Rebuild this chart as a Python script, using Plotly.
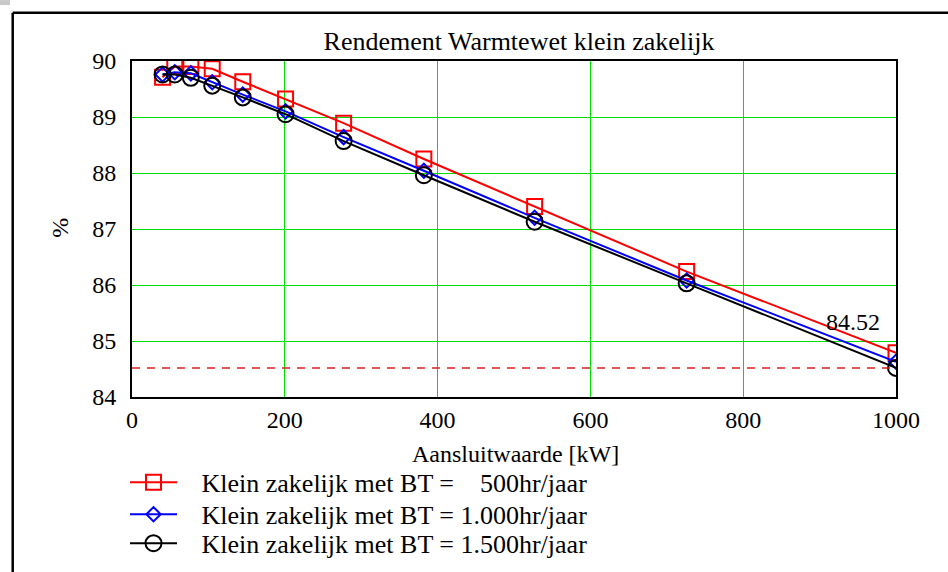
import plotly.graph_objects as go

# Data
aansluitwaarde = [40, 56, 77, 105, 145, 201, 277, 382, 527, 726, 1000]
bt_500 = [89.71, 89.90, 89.90, 89.86, 89.63, 89.32, 88.89, 88.25, 87.40, 86.24, 84.79]
bt_1000 = [89.76, 89.80, 89.78, 89.62, 89.40, 89.10, 88.64, 88.04, 87.20, 86.08, 84.63]
bt_1500 = [89.76, 89.76, 89.70, 89.56, 89.35, 89.05, 88.57, 87.96, 87.13, 86.03, 84.52]
ref_value = 84.52
names = [
    "\u00a0\u00a0\u00a0Klein zakelijk met BT =\u00a0\u00a0\u00a0\u00a0500hr/jaar",
    "\u00a0\u00a0\u00a0Klein zakelijk met BT = 1.000hr/jaar",
    "\u00a0\u00a0\u00a0Klein zakelijk met BT = 1.500hr/jaar",
]
x_ticks = [0, 200, 400, 600, 800, 1000]
y_ticks = [84, 85, 86, 87, 88, 89, 90]

FONT = "Liberation Serif"
W, H = 948, 572
L, R, T, B = 132, 896, 61, 397.5
PW, PH = R - L, B - T


def px(x):
    return (x - L) / PW


def py(y):
    return (B - y) / PH


fig = go.Figure()

fig.add_trace(go.Scatter(
    x=aansluitwaarde, y=bt_500, mode="lines+markers", name=names[0], legend="legend",
    line=dict(color="#ff0000", width=2),
    marker=dict(symbol="square-open", size=15, color="#ff0000", line=dict(width=2)),
))
fig.add_trace(go.Scatter(
    x=aansluitwaarde, y=bt_1000, mode="lines+markers", name=names[1], legend="legend2",
    line=dict(color="#0000ff", width=2),
    marker=dict(symbol="diamond-open", size=11, color="#0000ff", line=dict(width=2)),
))
fig.add_trace(go.Scatter(
    x=aansluitwaarde, y=bt_1500, mode="lines+markers", name=names[2], legend="legend3",
    line=dict(color="#000000", width=2),
    marker=dict(symbol="circle-open", size=16, color="#000000", line=dict(width=2)),
))

# dashed reference line
fig.add_shape(type="line", xref="x", yref="y", x0=0, x1=1000, y0=ref_value, y1=ref_value,
              line=dict(color="#d82020", width=1.5, dash="8px,7px"), layer="above")

# outer frame lines (left and top)
fig.add_shape(type="line", xref="paper", yref="paper",
              x0=px(12.7), x1=px(12.7), y0=py(12.7), y1=py(600),
              line=dict(color="black", width=2.5))
fig.add_shape(type="line", xref="paper", yref="paper",
              x0=px(12.7), x1=px(970), y0=py(12.7), y1=py(12.7),
              line=dict(color="black", width=2.5))
fig.add_shape(type="rect", xref="paper", yref="paper",
              x0=px(0), x1=px(10), y0=py(0), y1=py(5),
              fillcolor="#c8c8c8", line=dict(width=0))

fig.add_annotation(x=px(853), y=py(322), xref="paper", yref="paper", text=f"{ref_value:.2f}",
                   xanchor="center", yanchor="middle",
                   showarrow=False, font=dict(family=FONT, size=24, color="black"))
fig.add_annotation(x=px(60), y=py(228), xref="paper", yref="paper",
                   xanchor="center", yanchor="middle",
                   text="%", textangle=-90, showarrow=False,
                   font=dict(family=FONT, size=24, color="black"))
fig.add_annotation(x=px(515), y=py(455), xref="paper", yref="paper",
                   xanchor="center", yanchor="middle",
                   text="Aansluitwaarde [kW]", showarrow=False,
                   font=dict(family=FONT, size=24, color="black"))

legend_common = dict(xanchor="left", yanchor="middle", bgcolor="rgba(0,0,0,0)",
                     itemwidth=47, font=dict(family=FONT, size=26, color="black"))
fig.update_layout(
    width=W, height=H,
    margin=dict(l=L, r=W - R, t=T, b=H - B, autoexpand=False),
    paper_bgcolor="white", plot_bgcolor="white",
    font=dict(family=FONT, size=24, color="black"),
    title=dict(text="Rendement Warmtewet klein zakelijk", x=519 / W, xanchor="center",
               y=1 - 41 / H, yanchor="middle", yref="container",
               font=dict(family=FONT, size=26, color="black")),
    showlegend=True,
    legend=dict(x=px(125), y=py(483), **legend_common),
    legend2=dict(x=px(125), y=py(515), **legend_common),
    legend3=dict(x=px(125), y=py(544), **legend_common),
)
fig.update_xaxes(range=[0, 1000], tickvals=x_ticks, ticktext=[str(v) for v in x_ticks],
                 tickfont=dict(family=FONT, size=24),
                 showgrid=True, gridcolor="#00e000", gridwidth=1.3,
                 showline=True, linecolor="black", linewidth=2, mirror=True,
                 zeroline=False, ticks="", ticklen=0, ticklabelstandoff=0)
fig.update_yaxes(range=[84, 90], tickvals=y_ticks, ticktext=[str(v) for v in y_ticks],
                 tickfont=dict(family=FONT, size=24),
                 showgrid=True, gridcolor="#00e000", gridwidth=1.3,
                 showline=True, linecolor="black", linewidth=2, mirror=True,
                 zeroline=False, ticks="", ticklen=0, ticklabelstandoff=9)

fig.write_html("out.html", config={"displayModeBar": False},
               post_script="document.body.style.margin='0';document.body.style.overflow='hidden';")
